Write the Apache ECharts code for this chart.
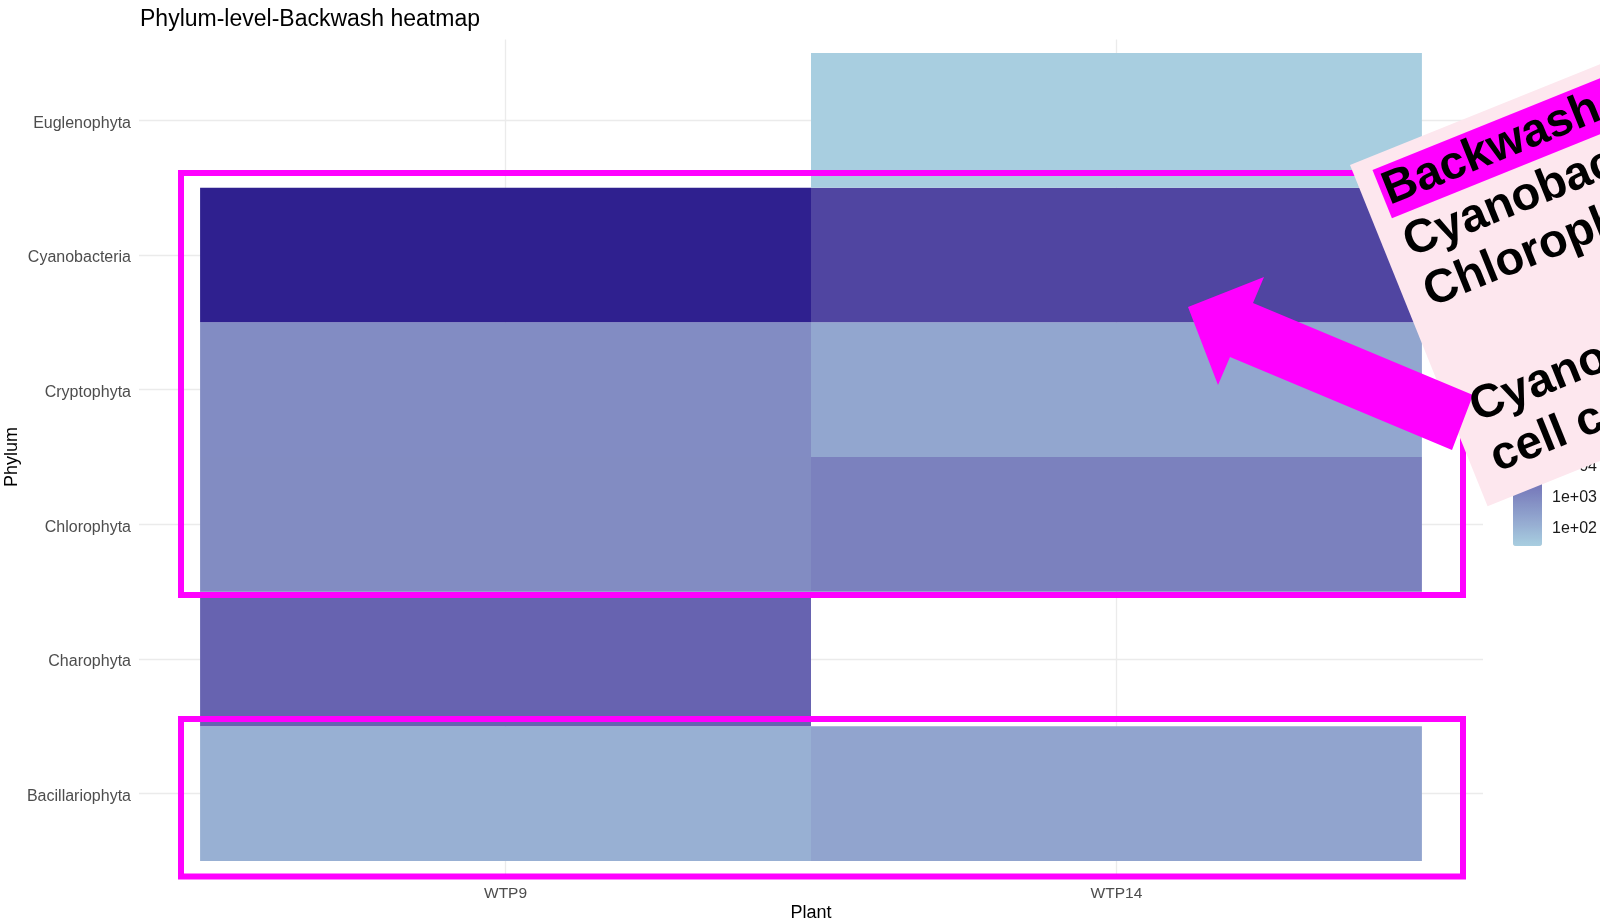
<!DOCTYPE html>
<html>
<head>
<meta charset="utf-8">
<title>Phylum-level-Backwash heatmap</title>
<script src="https://cdn.jsdelivr.net/npm/echarts@6/dist/echarts.min.js"></script>
<style>
  html, body { margin: 0; padding: 0; background: #ffffff; }
  #chart { width: 1600px; height: 923px; }
</style>
</head>
<body>
<div id="chart"></div>
<script>
// Sampling plants (x) and phyla (y, listed bottom to top)
const plants = ['WTP9', 'WTP14'];
const phyla = ['Bacillariophyta', 'Charophyta', 'Chlorophyta', 'Cryptophyta', 'Cyanobacteria', 'Euglenophyta'];

// Backwash cell counts per phylum (null = not detected)
const countsWTP9  = [122, 7870, 880, 870, 340000, null];
const countsWTP14 = [231, null, 1570, 206, 43500, 27];

// Colour-bar breaks (log10 of the count)
const legendBreaks = [2, 3, 4, 5];

// Annotation text
const noteLines = ['Backwash', 'Cyanobacteria &', 'Chlorophyta', '', 'Cyanobacteria', 'cell count'];

// ---- gradient interpolated in CIE Lab between the low and high fill colours ----
function toLin(c) { c /= 255; return c <= 0.04045 ? c / 12.92 : Math.pow((c + 0.055) / 1.055, 2.4); }
function toSrgb(c) {
  const v = c <= 0.0031308 ? 12.92 * c : 1.055 * Math.pow(c, 1 / 2.4) - 0.055;
  return Math.round(Math.max(0, Math.min(1, v)) * 255);
}
function hexToLab(hex) {
  const r = toLin(parseInt(hex.slice(1, 3), 16));
  const g = toLin(parseInt(hex.slice(3, 5), 16));
  const b = toLin(parseInt(hex.slice(5, 7), 16));
  const x = (0.4124 * r + 0.3576 * g + 0.1805 * b) / 0.95047;
  const y = (0.2126 * r + 0.7152 * g + 0.0722 * b);
  const z = (0.0193 * r + 0.1192 * g + 0.9505 * b) / 1.08883;
  const f = t => t > 0.008856 ? Math.cbrt(t) : 7.787 * t + 16 / 116;
  const fx = f(x), fy = f(y), fz = f(z);
  return [116 * fy - 16, 500 * (fx - fy), 200 * (fy - fz)];
}
function labToHex(lab) {
  const fy = (lab[0] + 16) / 116, fx = fy + lab[1] / 500, fz = fy - lab[2] / 200;
  const inv = t => (t * t * t > 0.008856 ? t * t * t : (t - 16 / 116) / 7.787);
  const x = inv(fx) * 0.95047, y = inv(fy), z = inv(fz) * 1.08883;
  const r = 3.2406 * x - 1.5372 * y - 0.4986 * z;
  const g = -0.9689 * x + 1.8758 * y + 0.0415 * z;
  const b = 0.0557 * x - 0.2040 * y + 1.0570 * z;
  return '#' + [r, g, b].map(c => toSrgb(c).toString(16).padStart(2, '0')).join('');
}
function labRamp(lo, hi, n) {
  const a = hexToLab(lo), b = hexToLab(hi), out = [];
  for (let i = 0; i < n; i++) {
    const t = i / (n - 1);
    out.push(labToHex([0, 1, 2].map(k => a[k] + (b[k] - a[k]) * t)));
  }
  return out;
}
const fillRamp = labRamp('#a8cee0', '#2f208f', 21);

// ---- tiles: [plant index, phylum index, count, log10(count)] ----
const cells = [];
[countsWTP9, countsWTP14].forEach((col, xi) => {
  col.forEach((v, yi) => {
    if (v != null) cells.push([xi + 1, yi + 1, v, Math.log10(v)]);
  });
});
const logs = cells.map(c => c[3]);
const logMin = Math.min.apply(null, logs);
const logMax = Math.max.apply(null, logs);

const FONT = '"Liberation Sans", Arial, Helvetica, sans-serif';
const chart = echarts.init(document.getElementById('chart'), null, { renderer: 'canvas' });

const gridLine = { show: true, showMinLine: false, showMaxLine: false, lineStyle: { color: '#ebebeb', width: 1.3 } };

// rotated note box: shared transform
const NOTE_X = 1350, NOTE_Y = 165, NOTE_ROT = 0.3832;
const noteBaselines = [39, 95, 149, 202, 273, 327];

const option = {
  animation: false,
  backgroundColor: '#ffffff',
  textStyle: { fontFamily: FONT },
  title: {
    text: 'Phylum-level-Backwash heatmap',
    left: 135, top: 3,
    textStyle: { fontSize: 23, fontWeight: 'normal', color: '#000000', fontFamily: FONT }
  },
  grid: [
    { left: 139, right: 117, top: 39.5, bottom: 48.5, outerBoundsMode: 'none', containLabel: false },
    { left: 1513, top: 420, width: 29, height: 126, outerBoundsMode: 'none', containLabel: false }
  ],
  xAxis: [
    {
      type: 'value', gridIndex: 0, min: 0.4, max: 2.6, splitNumber: 2, minInterval: 1, maxInterval: 1,
      axisLine: { show: false }, axisTick: { show: false }, splitLine: gridLine,
      axisLabel: {
        showMinLabel: false, showMaxLabel: false, color: '#4d4d4d', fontSize: 15.5, margin: 11,
        formatter: v => (Number.isInteger(v) && plants[v - 1]) ? plants[v - 1] : ''
      },
      name: 'Plant', nameLocation: 'middle', nameGap: 30, nameMoveOverlap: false,
      nameTextStyle: { color: '#000000', fontSize: 18 }
    },
    { type: 'value', gridIndex: 1, min: 0, max: 1, show: false }
  ],
  yAxis: [
    {
      type: 'value', gridIndex: 0, min: 0.4, max: 6.6, splitNumber: 6, minInterval: 1, maxInterval: 1,
      axisLine: { show: false }, axisTick: { show: false }, splitLine: gridLine,
      axisLabel: {
        showMinLabel: false, showMaxLabel: false, color: '#4d4d4d', fontSize: 16, margin: 8,
        verticalAlign: 'top', lineHeight: 6,
        formatter: v => (Number.isInteger(v) && phyla[v - 1]) ? phyla[v - 1] : ''
      },
      name: 'Phylum', nameLocation: 'middle', nameGap: 118, nameRotate: 90, nameMoveOverlap: false,
      nameTextStyle: { color: '#000000', fontSize: 18 }
    },
    {
      type: 'value', gridIndex: 1, position: 'left', min: logMin, max: logMax,
      axisLine: { show: false }, splitLine: { show: false }, axisLabel: { show: false },
      axisTick: { show: true, inside: true, length: 6, customValues: legendBreaks, lineStyle: { color: '#ffffff', width: 1.3 } }
    },
    {
      type: 'value', gridIndex: 1, position: 'right', min: logMin, max: logMax,
      axisLine: { show: false }, splitLine: { show: false },
      axisTick: { show: true, inside: true, length: 6, customValues: legendBreaks, lineStyle: { color: '#ffffff', width: 1.3 } },
      axisLabel: {
        customValues: legendBreaks, color: '#1a1a1a', fontSize: 16, margin: 10,
        formatter: v => '1e+' + String(Math.round(v)).padStart(2, '0')
      }
    }
  ],
  visualMap: {
    type: 'continuous', seriesIndex: 0, dimension: 3,
    min: logMin, max: logMax, calculable: false, hoverLink: false,
    inRange: { color: fillRamp },
    left: 1513, top: 420, itemWidth: 29, itemHeight: 126, padding: 0,
    text: null
  },
  series: [
    {
      type: 'custom', name: 'count', xAxisIndex: 0, yAxisIndex: 0,
      encode: { x: 0, y: 1 },
      data: cells,
      renderItem: (params, api) => {
        const p = api.coord([api.value(0) - 0.5, api.value(1) + 0.5]);
        const s = api.size([1, 1]);
        return {
          type: 'rect',
          shape: { x: p[0], y: p[1], width: s[0], height: s[1] },
          style: { fill: api.visual('color') }
        };
      }
    }
  ],
  graphic: {
    elements: [
      // highlight frames
      { type: 'rect', z: 50, shape: { x: 181, y: 173, width: 1282, height: 422 },
        style: { fill: 'none', stroke: '#ff00ff', lineWidth: 6 } },
      { type: 'rect', z: 50, shape: { x: 181, y: 719, width: 1282, height: 157.5 },
        style: { fill: 'none', stroke: '#ff00ff', lineWidth: 6 } },
      // note box
      { type: 'group', x: NOTE_X, y: NOTE_Y, rotation: NOTE_ROT, children: [
        { type: 'rect', z: 100, shape: { x: 0, y: 0, width: 700, height: 368 }, style: { fill: '#fde7ee' } }
      ] },
      // pointer arrow
      { type: 'polygon', z: 101,
        shape: { points: [[1188, 307], [1264, 277], [1253, 303], [1473, 395], [1452, 450], [1230, 357], [1218, 385]] },
        style: { fill: '#ff00ff' } },
      // note text
      { type: 'group', x: NOTE_X, y: NOTE_Y, rotation: NOTE_ROT, children: [
        { type: 'rect', z: 102, shape: { x: 19, y: 13, width: 280, height: 52 }, style: { fill: '#ff00ff' } }
      ].concat(noteLines.map((t, i) => ({
        type: 'text', z: 103, x: 22, y: noteBaselines[i],
        style: { text: t, fill: '#000000', fontSize: 47, fontWeight: 'bold', fontFamily: FONT, align: 'left', verticalAlign: 'middle' }
      }))) }
    ]
  }
};

chart.setOption(option);
</script>
</body>
</html>
